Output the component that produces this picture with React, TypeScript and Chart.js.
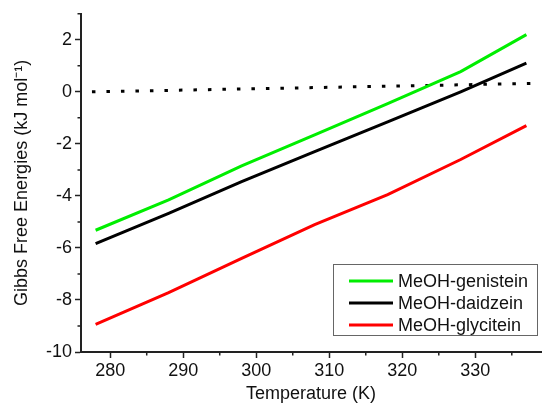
import React, { useEffect, useRef } from 'react';
import { Chart, registerables } from 'chart.js';

Chart.register(...registerables);

const temperatures = [278, 288, 298, 308, 318, 328, 337];
const genistein = [-5.32, -4.15, -2.85, -1.65, -0.45, 0.78, 2.2];
const daidzein = [-5.83, -4.67, -3.45, -2.3, -1.15, 0.0, 1.1];
const glycitein = [-8.94, -7.72, -6.4, -5.1, -3.95, -2.6, -1.3];
const refTemps = [277.5, 339];
const refValues = [0.0, 0.33];

const seriesLabels = ['MeOH-genistein', 'MeOH-daidzein', 'MeOH-glycitein'];
const seriesColors = ['#00ee00', '#000000', '#ff0000'];

const xTitle = 'Temperature (K)';
const yTitle = 'Gibbs Free Energies (kJ mol\u207B\u00B9)';

const FONT = '"Liberation Sans", Arial, sans-serif';

const toPoints = (xs: number[], ys: number[]) => xs.map((x, i) => ({ x, y: ys[i] }));

const minorTicksPlugin = {
  id: 'minorTicks',
  afterDraw(chart: any) {
    const { ctx } = chart;
    const xs = chart.scales.x;
    const ys = chart.scales.y;
    ctx.save();
    ctx.strokeStyle = '#222';
    ctx.lineWidth = 1.5;
    ctx.beginPath();
    xs.ticks.forEach((t: any) => {
      if (t.value % 10 !== 0) {
        const px = xs.getPixelForValue(t.value);
        ctx.moveTo(px, xs.top);
        ctx.lineTo(px, xs.top + 3.5);
      }
    });
    ys.ticks.forEach((t: any) => {
      if (t.value % 2 !== 0) {
        const py = ys.getPixelForValue(t.value);
        ctx.moveTo(ys.right, py);
        ctx.lineTo(ys.right - 3.5, py);
      }
    });
    ctx.stroke();
    ctx.restore();
  },
};

const boxLegendPlugin = {
  id: 'boxLegend',
  afterDraw(chart: any) {
    const { ctx, chartArea } = chart;
    const w = 204;
    const h = 71;
    const x0 = chartArea.right - 4 - w;
    const y0 = chartArea.bottom - 17 - h;
    ctx.save();
    ctx.fillStyle = '#ffffff';
    ctx.fillRect(x0, y0, w, h);
    ctx.strokeStyle = '#666';
    ctx.lineWidth = 1;
    ctx.strokeRect(x0 + 0.5, y0 + 0.5, w, h);
    ctx.font = `18px ${FONT}`;
    ctx.textBaseline = 'middle';
    ctx.textAlign = 'left';
    chart.data.datasets.slice(0, 3).forEach((ds: any, i: number) => {
      const y = y0 + 17 + i * 22;
      ctx.strokeStyle = ds.borderColor;
      ctx.lineWidth = 3;
      ctx.beginPath();
      ctx.moveTo(x0 + 16, y);
      ctx.lineTo(x0 + 60, y);
      ctx.stroke();
      ctx.fillStyle = '#111';
      ctx.fillText(ds.label, x0 + 65, y + 1);
    });
    ctx.restore();
  },
};

export default function App() {
  const canvasRef = useRef<HTMLCanvasElement | null>(null);

  useEffect(() => {
    if (!canvasRef.current) return;
    const series = [genistein, daidzein, glycitein];
    const chart = new Chart(canvasRef.current, {
      type: 'line',
      data: {
        datasets: [
          ...series.map((vals, i) => ({
            label: seriesLabels[i],
            data: toPoints(temperatures, vals),
            borderColor: seriesColors[i],
            backgroundColor: seriesColors[i],
            borderWidth: 3,
            pointRadius: 0,
            tension: 0,
          })),
          {
            label: 'zero',
            data: toPoints(refTemps, refValues),
            borderColor: '#000',
            borderWidth: 3,
            borderDash: [3.5, 11],
            pointRadius: 0,
          },
        ],
      },
      options: {
        responsive: false,
        animation: false,
        devicePixelRatio: 1,
        layout: { padding: { left: 0, top: 13, right: 9, bottom: 0 } },
        plugins: { legend: { display: false }, tooltip: { enabled: false } },
        scales: {
          x: {
            type: 'linear',
            min: 276,
            max: 339,
            afterFit: (s: any) => { s.height = 53; },
            border: { display: true, color: '#222', width: 2 },
            grid: {
              drawOnChartArea: false,
              drawTicks: true,
              tickLength: 6,
              tickWidth: 1.5,
              tickColor: (c: any) => (c.tick && c.tick.value % 10 === 0 ? '#222' : 'rgba(0,0,0,0)'),
            },
            ticks: {
              stepSize: 5,
              includeBounds: false,
              autoSkip: false,
              maxRotation: 0,
              padding: 2,
              color: '#111',
              font: { family: FONT, size: 18 },
              callback: (v: any) => (Number(v) % 10 === 0 ? String(v) : ''),
            },
            title: {
              display: true,
              text: xTitle,
              color: '#111',
              font: { family: FONT, size: 18 },
              padding: { top: 0, bottom: 0 },
            },
          },
          y: {
            type: 'linear',
            min: -10,
            max: 3,
            afterFit: (s: any) => { s.width = 81; },
            border: { display: true, color: '#222', width: 2 },
            grid: {
              drawOnChartArea: false,
              drawTicks: true,
              tickLength: 6,
              tickWidth: 1.5,
              tickColor: (c: any) => (c.tick && c.tick.value % 2 === 0 ? '#222' : 'rgba(0,0,0,0)'),
            },
            ticks: {
              stepSize: 1,
              autoSkip: false,
              padding: 3,
              color: '#111',
              font: { family: FONT, size: 18 },
              callback: (v: any) => (Number(v) % 2 === 0 ? String(v) : ''),
            },
            title: {
              display: true,
              text: yTitle,
              color: '#111',
              font: { family: FONT, size: 18 },
              padding: { top: 11, bottom: 0 },
            },
          },
        },
      },
      plugins: [minorTicksPlugin, boxLegendPlugin],
    } as any);
    return () => chart.destroy();
  }, []);

  return (
    <div style={{ position: 'absolute', left: 0, top: 0, width: 550, height: 405, background: '#fff' }}>
      <canvas ref={canvasRef} width={550} height={405} style={{ width: 550, height: 405 }} />
    </div>
  );
}
